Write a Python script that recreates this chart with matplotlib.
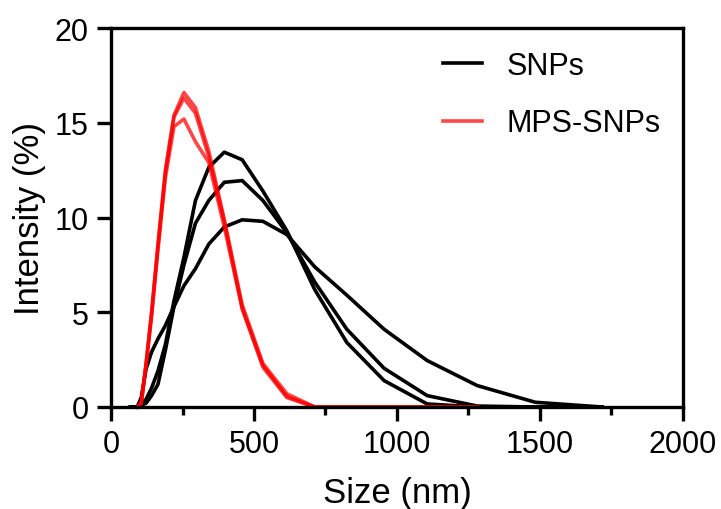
import matplotlib.pyplot as plt
from matplotlib.ticker import MultipleLocator

plt.rcParams['font.family'] = ['Liberation Sans', 'DejaVu Sans']

# DLS size bins (nm)
size_nm = [68.06, 78.82, 91.28, 105.7, 122.4, 141.8, 164.2, 190.1, 220.2, 255.0,
           295.3, 342.0, 396.1, 458.7, 531.2, 615.1, 712.4, 825.0, 955.4, 1106,
           1281, 1484, 1718]

# SNPs, three measurements (intensity %)
snps_1 = [0, 0, 0, 0.2, 0.4, 1.0, 1.9, 3.3, 5.6, 7.9, 10.9, 12.65, 13.45, 13.05,
          11.4, 9.3, 6.2, 3.4, 1.39, 0.16, 0, 0, 0]
snps_2 = [0, 0, 0, 0.1, 0.2, 0.6, 1.2, 3.0, 5.3, 7.5, 9.7, 10.9, 11.86, 11.95,
          10.9, 9.2, 6.6, 4.1, 2.04, 0.6, 0.05, 0, 0]
snps_3 = [0, 0, 0, 0.5, 2.0, 2.9, 3.6, 4.3, 5.3, 6.4, 7.3, 8.6, 9.5, 9.88,
          9.8, 9.1, 7.4, 5.9, 4.1, 2.45, 1.13, 0.25, 0]

# MPS-SNPs, three measurements (bins 91.28 .. 1281 nm)
mps_size = size_nm[2:21]
mps_1 = [0, 0.2, 2.3, 5.0, 8.6, 12.5, 15.4, 16.6, 15.8, 13.5, 9.9, 5.4, 2.3, 0.7,
         0, 0, 0, 0, 0]
mps_2 = [0, 0.2, 2.2, 4.9, 8.5, 12.4, 15.3, 16.3, 15.5, 13.2, 9.8, 5.2, 2.1, 0.5,
         0, 0, 0, 0, 0]
mps_3 = [0, 0.2, 2.2, 4.8, 8.3, 12.1, 14.8, 15.2, 14.0, 12.9, 9.5, 5.2, 2.2, 0.55,
         0, 0, 0, 0, 0]

fig = plt.figure(figsize=(7.21, 5.10), dpi=100)
ax = fig.add_axes([0.154, 0.2, 0.793, 0.743])

lw = 2.6
for i, s in enumerate([snps_1, snps_2, snps_3]):
    ax.plot(size_nm, s, color='black', lw=lw, clip_on=False,
            label='SNPs' if i == 0 else None)
for i, s in enumerate([mps_1, mps_2, mps_3]):
    ax.plot(mps_size, s, color='#ff0000', alpha=0.72, lw=lw, clip_on=False,
            label='MPS-SNPs' if i == 0 else None)

ax.set_xlim(0, 2000)
ax.set_ylim(0, 20)
ax.xaxis.set_major_locator(MultipleLocator(500))
ax.xaxis.set_minor_locator(MultipleLocator(250))
ax.yaxis.set_major_locator(MultipleLocator(5))

for sp in ax.spines.values():
    sp.set_linewidth(2.4)
ax.tick_params(which='major', length=10, width=2.4, labelsize=22, pad=6)
ax.tick_params(which='minor', length=5.5, width=2.4)

ax.set_xlabel('Size (nm)', fontsize=25, labelpad=12)
ax.set_ylabel('Intensity (%)', fontsize=25, labelpad=6)

ax.legend(loc='upper left', bbox_to_anchor=(0.58, 0.94), frameon=False,
          fontsize=22, handlelength=1.3, handletextpad=0.8,
          labelspacing=0.9, borderpad=0, borderaxespad=0)

plt.savefig('out.png', dpi=100)
